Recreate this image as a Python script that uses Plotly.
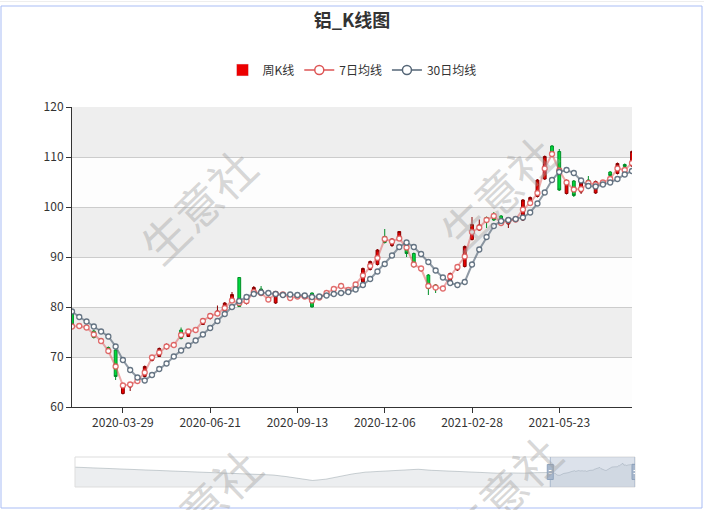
import numpy as np
import pandas as pd
import plotly.graph_objects as go

# ---------------- data ----------------
dates = pd.date_range(start="2020-02-09", periods=78, freq="7D").strftime("%Y-%m-%d").tolist()

open_ = [79.4, 76.4, 76.0, 75.2, 73.6, 71.9, 71.4, 62.7, 64.0, 64.9,
         66.1, 69.3, 70.1, 71.7, 72.1, 75.4, 74.1, 75.2, 76.5, 77.7,
         78.5, 79.3, 81.1, 85.9, 80.7, 82.4, 83.6, 81.9, 80.8, 82.7,
         82.6, 81.9, 82.6, 82.8, 81.7, 82.3, 83.4, 84.5, 83.6, 84.0,
         85.0, 87.5, 88.5, 94.1, 92.3, 93.4, 92.7, 90.7, 87.3, 86.4,
         84.4, 83.6, 84.9, 87.4, 88.1, 93.5, 95.4, 97.9, 98.4, 98.2,
         96.6, 97.3, 97.4, 101.3, 102.1, 105.6, 112.2, 111.1, 102.7, 105.2,
         103.0, 105.4, 102.8, 104.6, 107.0, 106.7, 108.5, 108.2]
close_ = [76.5, 76.1, 75.7, 73.9, 73.1, 70.9, 66.1, 64.5, 64.8, 65.4,
          68.1, 70.1, 71.7, 72.5, 72.6, 73.7, 75.4, 75.6, 77.6, 78.6,
          79.2, 80.8, 82.5, 80.1, 81.4, 83.9, 83.2, 81.4, 83.0, 82.4,
          81.5, 82.2, 81.9, 80.0, 82.1, 83.1, 83.8, 84.1, 83.1, 84.8,
          87.7, 89.1, 91.4, 92.9, 93.6, 95.1, 90.7, 88.1, 87.9, 83.7,
          83.7, 83.9, 86.7, 88.3, 92.1, 96.5, 96.4, 97.1, 97.4, 96.5,
          97.6, 97.7, 101.4, 101.9, 105.4, 110.1, 110.8, 103.4, 105.3, 102.3,
          104.8, 104.7, 105.1, 105.0, 106.3, 108.7, 108.1, 111.1]
high_ = [79.6, 76.6, 76.2, 75.4, 73.8, 72.1, 71.5, 64.7, 65.0, 65.6,
         68.3, 70.3, 71.9, 72.7, 73.0, 75.9, 75.6, 75.8, 77.8, 78.8,
         80.3, 81.0, 83.0, 86.0, 81.6, 84.2, 84.2, 82.1, 83.1, 82.8,
         82.7, 82.4, 82.7, 82.9, 82.3, 83.3, 84.0, 84.8, 83.8, 85.0,
         87.9, 89.3, 91.6, 95.6, 93.7, 95.2, 92.9, 90.9, 88.1, 86.6,
         84.6, 84.1, 86.9, 88.5, 92.3, 98.0, 97.5, 98.1, 99.0, 98.4,
         97.8, 97.9, 101.6, 102.1, 105.6, 110.3, 112.4, 111.6, 105.5, 105.4,
         105.0, 106.2, 105.3, 105.2, 107.2, 108.9, 108.7, 111.3]
low_ = [76.2, 75.9, 75.5, 73.7, 72.9, 70.7, 65.4, 62.5, 63.2, 64.7,
        65.9, 69.1, 70.0, 71.5, 72.0, 73.5, 74.0, 75.0, 76.4, 77.5,
        78.3, 79.1, 80.9, 80.0, 80.5, 82.2, 83.0, 81.2, 80.6, 82.2,
        81.4, 81.8, 81.8, 79.9, 81.6, 82.2, 83.3, 84.0, 83.0, 83.8,
        84.6, 87.3, 88.3, 92.7, 92.0, 93.2, 90.0, 87.9, 87.1, 82.4,
        82.8, 83.4, 84.7, 87.2, 87.9, 93.3, 95.2, 95.8, 97.2, 96.3,
        95.8, 97.1, 97.2, 101.1, 101.9, 105.4, 110.6, 103.2, 102.5, 102.0,
        102.6, 104.5, 102.6, 104.4, 106.1, 106.5, 107.9, 108.0]
ma7 = [76.1, 76.2, 75.9, 74.5, 73.2, 71.2, 68.1, 64.3, 64.5, 65.2,
       66.9, 69.9, 70.9, 72.1, 72.4, 74.4, 75.1, 75.4, 77.2, 78.2,
       78.7, 79.8, 81.3, 80.8, 81.2, 83.0, 82.8, 81.5, 82.6, 82.5,
       81.8, 82.1, 82.1, 81.3, 81.9, 82.8, 83.6, 84.2, 83.4, 84.5,
       86.3, 88.2, 89.8, 93.6, 93.1, 93.7, 91.9, 88.5, 87.7, 84.2,
       83.9, 83.7, 86.1, 88.0, 90.1, 95.0, 95.9, 97.4, 98.2, 96.8,
       97.3, 97.5, 99.5, 100.8, 102.8, 107.7, 110.6, 107.3, 104.9, 103.5,
       103.6, 104.8, 104.5, 104.9, 105.6, 107.7, 107.4, 108.8]
ma30 = [79.1, 78.0, 77.1, 76.1, 75.1, 74.1, 72.1, 69.4, 67.4, 65.9,
        65.3, 66.4, 67.6, 68.7, 70.1, 71.3, 72.3, 73.3, 74.5, 75.8,
        77.2, 78.6, 80.0, 81.2, 82.0, 82.6, 82.9, 82.8, 82.6, 82.4,
        82.5, 82.4, 82.3, 82.0, 82.1, 82.3, 82.6, 82.8, 83.0, 83.5,
        84.4, 85.6, 87.1, 88.6, 90.3, 92.0, 92.9, 92.0, 90.6, 89.0,
        87.3, 85.9, 84.8, 84.4, 85.0, 88.5, 91.5, 94.0, 96.2, 97.2,
        97.4, 97.6, 97.9, 98.9, 100.7, 102.9, 105.4, 107.0, 107.4, 106.8,
        105.3, 104.2, 104.1, 104.5, 104.9, 105.6, 106.5, 107.2]

tick_labels = ["2020-03-29", "2020-06-21", "2020-09-13", "2020-12-06", "2021-02-28", "2021-05-23"]

# earlier history shown only in the zoom slider (sampled every 12 weeks, read from its silhouette)
history_overview = [96, 94, 92, 90, 88, 86, 84, 82, 80, 79, 77, 75, 73, 72, 70, 66, 60, 52,
                    45, 50, 60, 70, 77, 80, 83, 86, 88, 84, 82, 80, 77, 75, 73, 74, 73, 75]
history_step_weeks = 12

# ---------------- layout helpers (pixels -> paper) ----------------
W, H = 704, 510
def px(x):
    return x / W
def py(y):
    return 1 - y / H

FONT = "Noto Sans CJK SC, Microsoft YaHei, sans-serif"

fig = go.Figure()

# legend-only entries
fig.add_trace(go.Bar(x=[None], y=[None], name="周K线", marker=dict(color="#ec0000"), showlegend=True))

fig.add_trace(go.Candlestick(
    x=dates, open=open_, high=high_, low=low_, close=close_, name="周K线",
    increasing=dict(line=dict(color="#8A0000", width=1), fillcolor="#ec0000"),
    decreasing=dict(line=dict(color="#008F28", width=1), fillcolor="#00da3c"),
    whiskerwidth=0, showlegend=False, hoverinfo="skip",
))

fig.add_trace(go.Scatter(
    x=dates, y=ma7, mode="lines+markers", name="7日均线", showlegend=False,
    line=dict(color="rgba(221,85,85,0.5)", width=2),
    marker=dict(symbol="circle", size=5, color="white", line=dict(color="rgba(221,85,85,0.85)", width=1.3)),
    hoverinfo="skip",
))
fig.add_trace(go.Scatter(
    x=dates, y=ma30, mode="lines+markers", name="30日均线", showlegend=False,
    line=dict(color="rgba(85,102,119,0.65)", width=2),
    marker=dict(symbol="circle", size=5, color="white", line=dict(color="rgba(85,102,119,0.9)", width=1.3)),
    hoverinfo="skip",
))
fig.add_trace(go.Scatter(
    x=[None], y=[None], mode="lines+markers", name="7日均线",
    line=dict(color="#dd5555", width=1.5),
    marker=dict(symbol="circle", size=9, color="white", line=dict(color="#dd5555", width=1.5)),
))
fig.add_trace(go.Scatter(
    x=[None], y=[None], mode="lines+markers", name="30日均线",
    line=dict(color="#556677", width=1.5),
    marker=dict(symbol="circle", size=9, color="white", line=dict(color="#556677", width=1.5)),
))

# slider overview
n_hist = len(history_overview)
ov_x = list(np.arange(n_hist) * history_step_weeks) + list(n_hist * history_step_weeks + np.arange(len(close_)))
ov_y = history_overview + close_
win_start = n_hist * history_step_weeks
win_end = win_start + len(close_) - 1
fig.add_trace(go.Scatter(
    x=ov_x, y=ov_y, xaxis="x2", yaxis="y2", mode="lines",
    line=dict(color="rgba(47,69,84,0.3)", width=0.8),
    fill="tozeroy", fillcolor="rgba(47,69,84,0.09)",
    showlegend=False, hoverinfo="skip",
))

shapes = []
# alternating split areas
for lo in range(60, 120, 10):
    band = "rgba(200,200,200,0.3)" if (lo // 10) % 2 == 1 else "rgba(250,250,250,0.3)"
    shapes.append(dict(type="rect", xref="x domain", yref="y", x0=0, x1=1, y0=lo, y1=lo + 10,
                       fillcolor=band, line=dict(width=0), layer="below"))
# slider frame, window, handles
shapes.append(dict(type="rect", xref="x2 domain", yref="y2 domain", x0=0, x1=1, y0=0, y1=1,
                   line=dict(color="#dddddd", width=1), fillcolor="rgba(0,0,0,0)"))
shapes.append(dict(type="rect", xref="x2", yref="y2 domain", x0=win_start, x1=win_end, y0=0, y1=1,
                   line=dict(width=0), fillcolor="rgba(167,183,204,0.4)"))
for hx in (win_start, win_end):
    shapes.append(dict(type="line", xref="x2", yref="y2 domain", x0=hx, x1=hx, y0=0, y1=1,
                       line=dict(color="#a7b7cc", width=1)))
    shapes.append(dict(type="rect", xref="x2", yref="y2 domain", xsizemode="pixel", xanchor=hx,
                       x0=-3, x1=3, y0=0.25, y1=0.75, fillcolor="#a7b7cc", line=dict(color="#8fa3bd", width=1)))
    for yy in (0.45, 0.55):
        shapes.append(dict(type="line", xref="x2", yref="y2 domain", xsizemode="pixel", xanchor=hx,
                           x0=-1.5, x1=1.5, y0=yy, y1=yy, line=dict(color="white", width=1)))
# page border
shapes.append(dict(type="rect", xref="paper", yref="paper", x0=px(1), x1=px(702), y0=py(508), y1=py(6),
                   line=dict(color="#a9bdf5", width=1), fillcolor="rgba(0,0,0,0)", layer="below"))
shapes.append(dict(type="line", xref="paper", yref="paper", x0=0, x1=1, y0=py(1.5), y1=py(1.5),
                   line=dict(color="#eeeeee", width=1), layer="below"))

# watermark
annotations = []
for (cx, cy) in [(197, 205), (497, 192), (202, 505), (502, 492)]:
    annotations.append(dict(text="生意社", xref="paper", yref="paper", x=px(cx), y=py(cy),
                            xanchor="center", yanchor="middle", showarrow=False, textangle=-44,
                            font=dict(family=FONT, size=46, color="rgba(160,160,160,0.42)")))

fig.update_layout(
    width=W, height=H, margin=dict(l=0, r=0, t=0, b=0, pad=0, autoexpand=False),
    paper_bgcolor="white", plot_bgcolor="white",
    font=dict(family=FONT, size=12, color="#333"),
    title=dict(text="<b>铝_K线图</b>", x=0.5, xanchor="center", y=py(21), yanchor="middle",
               font=dict(family=FONT, size=18, color="#333")),
    legend=dict(orientation="h", x=0.5, xanchor="center", y=py(70), yanchor="middle",
                font=dict(family=FONT, size=12, color="#333"), bgcolor="rgba(0,0,0,0)", itemwidth=30),
    boxgap=0.45,
    xaxis=dict(domain=[px(72), px(632)], anchor="y", type="category", range=[0, len(dates) - 1],
               tickmode="array", tickvals=tick_labels, ticktext=tick_labels,
               ticks="outside", ticklen=5, tickcolor="#333", showline=True, linecolor="#333",
               showgrid=False, zeroline=False, rangeslider=dict(visible=False), automargin=False,
               tickfont=dict(size=12, color="#333"), fixedrange=True),
    yaxis=dict(domain=[py(407), py(107)], anchor="x", range=[60, 120], tick0=60, dtick=10,
               ticks="outside", ticklen=5, tickcolor="#333", showline=True, linecolor="#333",
               showgrid=True, gridcolor="#cccccc", gridwidth=1, zeroline=False, automargin=False,
               tickfont=dict(size=12, color="#333"), fixedrange=True),
    xaxis2=dict(domain=[px(75), px(635)], anchor="y2", range=[0, win_end], visible=False,
                fixedrange=True, automargin=False),
    yaxis2=dict(domain=[py(487), py(457)], anchor="x2", range=[20, 135], visible=False,
                fixedrange=True, automargin=False),
    shapes=shapes, annotations=annotations,
)

fig.write_html("out.html", config={"displayModeBar": False},
               post_script="document.body.style.margin='0';document.body.style.overflow='hidden';")
